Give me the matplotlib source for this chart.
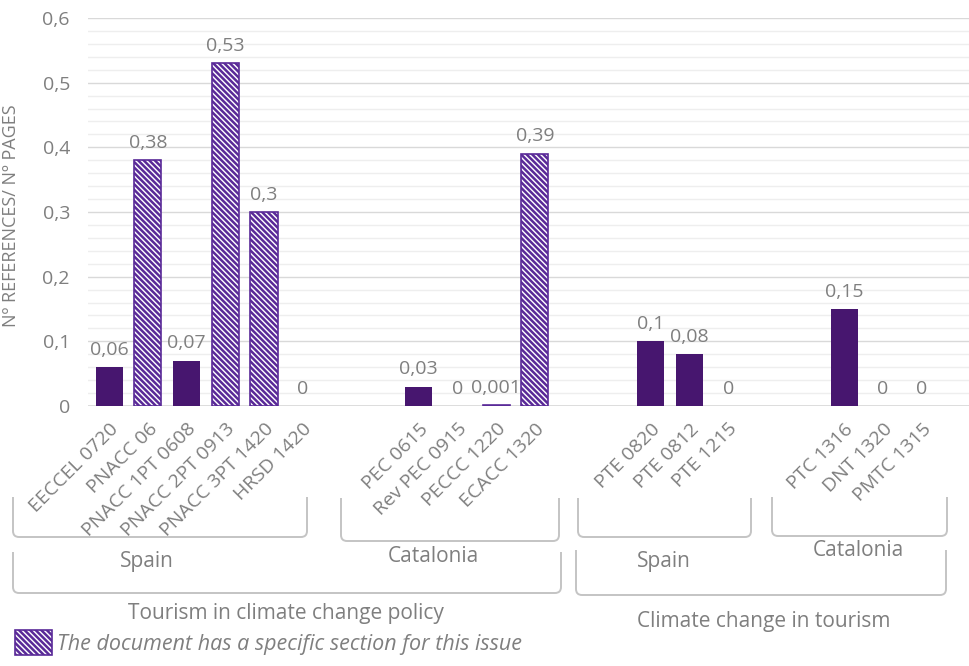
import matplotlib
matplotlib.use("Agg")
import matplotlib.pyplot as plt
import numpy as np
from matplotlib.path import Path
from matplotlib.patches import PathPatch, Patch
from matplotlib.ticker import MultipleLocator, FuncFormatter

plt.rcParams["font.family"] = ["Open Sans", "DejaVu Sans"]
plt.rcParams["hatch.linewidth"] = 1.8

# --- data ---
docs = ["EECCEL 0720", "PNACC 06", "PNACC 1PT 0608", "PNACC 2PT 0913", "PNACC 3PT 1420", "HRSD 1420",
        "", "",
        "PEC 0615", "Rev PEC 0915", "PECCC 1220", "ECACC 1320",
        "", "",
        "PTE 0820", "PTE 0812", "PTE 1215",
        "", "",
        "PTC 1316", "DNT 1320", "PMTC 1315"]
values = [0.06, 0.38, 0.07, 0.53, 0.3, 0,
          None, None,
          0.03, 0, 0.001, 0.39,
          None, None,
          0.1, 0.08, 0,
          None, None,
          0.15, 0, 0]
value_text = ["0,06", "0,38", "0,07", "0,53", "0,3", "0",
              "", "",
              "0,03", "0", "0,001", "0,39",
              "", "",
              "0,1", "0,08", "0",
              "", "",
              "0,15", "0", "0"]
specific = [False, True, False, True, True, False,
            False, False,
            False, False, True, True,
            False, False,
            False, False, False,
            False, False,
            False, False, False]

SOLID = "#47166f"
HATCH_EDGE = "#5a2a98"
GREY = "#7f7f7f"
LINE = "#c4c4c4"
HATCH = "\\" * 6

fig = plt.figure(figsize=(9.7, 6.66), dpi=100)
ax = fig.add_axes([88 / 970, 1 - 406 / 666, 1 - 88 / 970, (406 - 18) / 666])

x = np.arange(len(docs))
for i, v in enumerate(values):
    if v is None:
        continue
    if specific[i]:
        b = ax.bar(x[i], v, 0.7, facecolor="white", edgecolor=HATCH_EDGE, hatch=HATCH, linewidth=1.2)
    else:
        b = ax.bar(x[i], v, 0.7, color=SOLID)
    ax.bar_label(b, labels=[value_text[i]], padding=6, color=GREY, fontsize=14)

ax.set_ylim(0, 0.6)
ax.set_xlim(-0.55, 22.25)
ax.yaxis.set_major_locator(MultipleLocator(0.1))
ax.yaxis.set_minor_locator(MultipleLocator(0.02))
ax.yaxis.set_major_formatter(FuncFormatter(lambda v, p: f"{v:.1f}".replace(".", ",") if v > 0 else "0"))
ax.grid(True, which="major", axis="y", color="#d9d9d9", lw=1.0)
ax.grid(True, which="minor", axis="y", color="#eeeeee", lw=1.0)
ax.set_axisbelow(True)
for s in ax.spines.values():
    s.set_visible(False)
ax.axhline(0, color="#d9d9d9", lw=1.2, zorder=0.5)
ax.tick_params(axis="both", which="both", length=0)
ax.tick_params(axis="y", labelsize=14, labelcolor=GREY, pad=13)

ax.set_xticks(x)
ax.set_xticklabels(docs, rotation=45, ha="right", va="top", rotation_mode="anchor",
                   fontsize=14, color=GREY)
ax.tick_params(axis="x", pad=10)

ax.set_ylabel("Nº REFERENCES/ Nº PAGES", color=GREY, fontsize=13, labelpad=10)
ax.yaxis.set_label_coords(-0.077, 0.49)


# --- category brackets (figure pixels) ---
def px(xp, yp):
    return xp / 970, 1 - yp / 666


def bracket(x0, x1, ytop, ybot, r=6):
    verts = [px(x0, ytop), px(x0, ybot - r), px(x0, ybot), px(x0 + r, ybot),
             px(x1 - r, ybot), px(x1, ybot), px(x1, ybot - r), px(x1, ytop)]
    codes = [Path.MOVETO, Path.LINETO, Path.CURVE3, Path.CURVE3,
             Path.LINETO, Path.CURVE3, Path.CURVE3, Path.LINETO]
    fig.patches.append(PathPatch(Path(verts, codes), transform=fig.transFigure,
                                 fill=False, edgecolor=LINE, lw=1.4))


bracket(13, 307, 497, 537)
bracket(341, 559, 498, 541)
bracket(578, 751, 498, 537)
bracket(772, 947, 497, 536)
bracket(13, 561, 552, 593)
bracket(576, 946, 550, 595)

label_kw = dict(color=GREY, fontsize=15, ha="center", va="center")
fig.text(*px(147, 561), "Spain", **label_kw)
fig.text(*px(433, 556), "Catalonia", **label_kw)
fig.text(*px(664, 562), "Spain", **label_kw)
fig.text(*px(858, 550), "Catalonia", **label_kw)
fig.text(*px(286, 614), "Tourism in climate change policy", **label_kw)
fig.text(*px(764, 621), "Climate change in tourism", **label_kw)

# --- legend ---
handle = Patch(facecolor="white", edgecolor=HATCH_EDGE, hatch=HATCH, linewidth=1.2)
fig.legend(handles=[handle], labels=["The document has a specific section for this issue"],
           loc="lower left", bbox_to_anchor=(-0.004, -0.012), frameon=False,
           handlelength=1.7, handleheight=1.35, handletextpad=0.25,
           prop=dict(style="italic", size=15.5), labelcolor=GREY)

fig.savefig("out.png", dpi=100)
